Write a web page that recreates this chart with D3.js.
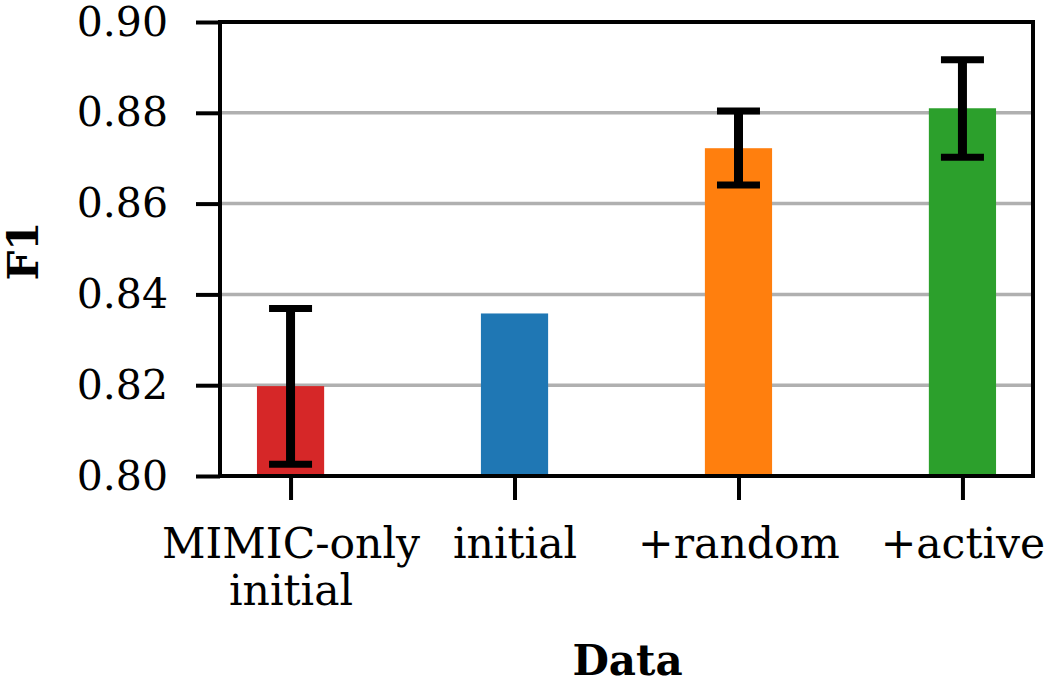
<!DOCTYPE html>
<html>
  <head>
    <meta charset="utf-8" />
    <title>F1 by data</title>
    <script src="https://cdn.jsdelivr.net/npm/d3@7"></script>
    <style>
      body { margin: 0; background: #fff; }
      text { font-family: "DejaVu Serif", serif; }
    </style>
  </head>
  <body>
    <svg id="chart" width="1050" height="683"></svg>
    <script>
// values
const categories = ["MIMIC-only\ninitial", "initial", "+random", "+active"];
const f1 = [0.8198, 0.8358, 0.8722, 0.8810];
const errLow = [0.8026, null, 0.8641, 0.8702];
const errHigh = [0.8369, null, 0.8804, 0.8917];
const colors = ["#d62728", "#1f77b4", "#ff7f0e", "#2ca02c"];
const yTicks = [0.80, 0.82, 0.84, 0.86, 0.88, 0.90];

const svg = d3.select("#chart");
const plotL = 220, plotR = 1033, plotT = 22, plotB = 476;

const x = d3.scaleLinear().domain([-0.315, 3.315]).range([plotL, plotR]);
const y = d3.scaleLinear().domain([0.80, 0.90]).range([plotB, plotT]);
const barW = 0.3;

// grid
svg.append("g")
  .selectAll("line")
  .data(yTicks)
  .join("line")
  .attr("x1", plotL).attr("x2", plotR)
  .attr("y1", d => y(d)).attr("y2", d => y(d))
  .attr("stroke", "#b0b0b0")
  .attr("stroke-width", 3.5);

// bars
svg.append("g")
  .selectAll("rect")
  .data(f1)
  .join("rect")
  .attr("x", (d, i) => x(i - barW / 2))
  .attr("width", x(barW) - x(0))
  .attr("y", d => y(d))
  .attr("height", d => y(0.80) - y(d))
  .attr("fill", (d, i) => colors[i]);

// error bars
const errs = f1.map((d, i) => ({ i, lo: errLow[i], hi: errHigh[i] })).filter(e => e.lo != null);
const eg = svg.append("g").attr("stroke", "#000");
eg.selectAll(".stem").data(errs).join("line")
  .attr("x1", e => x(e.i)).attr("x2", e => x(e.i))
  .attr("y1", e => y(e.lo)).attr("y2", e => y(e.hi))
  .attr("stroke-width", 9);
eg.selectAll(".capHi").data(errs).join("line")
  .attr("x1", e => x(e.i) - 21.5).attr("x2", e => x(e.i) + 21.5)
  .attr("y1", e => y(e.hi)).attr("y2", e => y(e.hi))
  .attr("stroke-width", 7);
eg.selectAll(".capLo").data(errs).join("line")
  .attr("x1", e => x(e.i) - 21.5).attr("x2", e => x(e.i) + 21.5)
  .attr("y1", e => y(e.lo)).attr("y2", e => y(e.lo))
  .attr("stroke-width", 7);

// axes
const yAxis = svg.append("g")
  .attr("transform", `translate(${plotL},0)`)
  .call(d3.axisLeft(y).tickValues(yTicks).tickFormat(d3.format(".2f")).tickSize(24).tickPadding(28));

const xAxis = svg.append("g")
  .attr("transform", `translate(0,${plotB})`)
  .call(d3.axisBottom(x).tickValues([0, 1, 2, 3]).tickFormat(i => categories[i]).tickSize(24).tickPadding(28));

[yAxis, xAxis].forEach(g => {
  g.select(".domain").remove();
  g.selectAll(".tick line").attr("stroke", "#000").attr("stroke-width", 4);
  g.selectAll("text").attr("fill", "#000").attr("font-family", "DejaVu Serif");
});
yAxis.selectAll("text").attr("font-size", 41);
xAxis.selectAll("text").attr("font-size", 42.5);

xAxis.selectAll(".tick text").each(function (i) {
  const t = d3.select(this);
  const lines = categories[i].split("\n");
  t.text(null);
  lines.forEach((s, k) => {
    t.append("tspan").attr("x", 0).attr("dy", k === 0 ? "0.71em" : "1.1em").text(s);
  });
  t.attr("dy", null);
});

// frame
svg.append("rect")
  .attr("x", plotL).attr("y", plotT)
  .attr("width", plotR - plotL).attr("height", plotB - plotT)
  .attr("fill", "none").attr("stroke", "#000").attr("stroke-width", 4);

// axis titles
svg.append("text")
  .attr("transform", `translate(38,${(plotT + plotB) / 2 + 2}) rotate(-90)`)
  .attr("text-anchor", "middle")
  .attr("font-size", 42).attr("font-weight", "bold")
  .text("F1");

svg.append("text")
  .attr("x", (plotL + plotR) / 2 + 1).attr("y", 675)
  .attr("text-anchor", "middle")
  .attr("font-size", 42).attr("font-weight", "bold")
  .text("Data");
    </script>
  </body>
</html>
